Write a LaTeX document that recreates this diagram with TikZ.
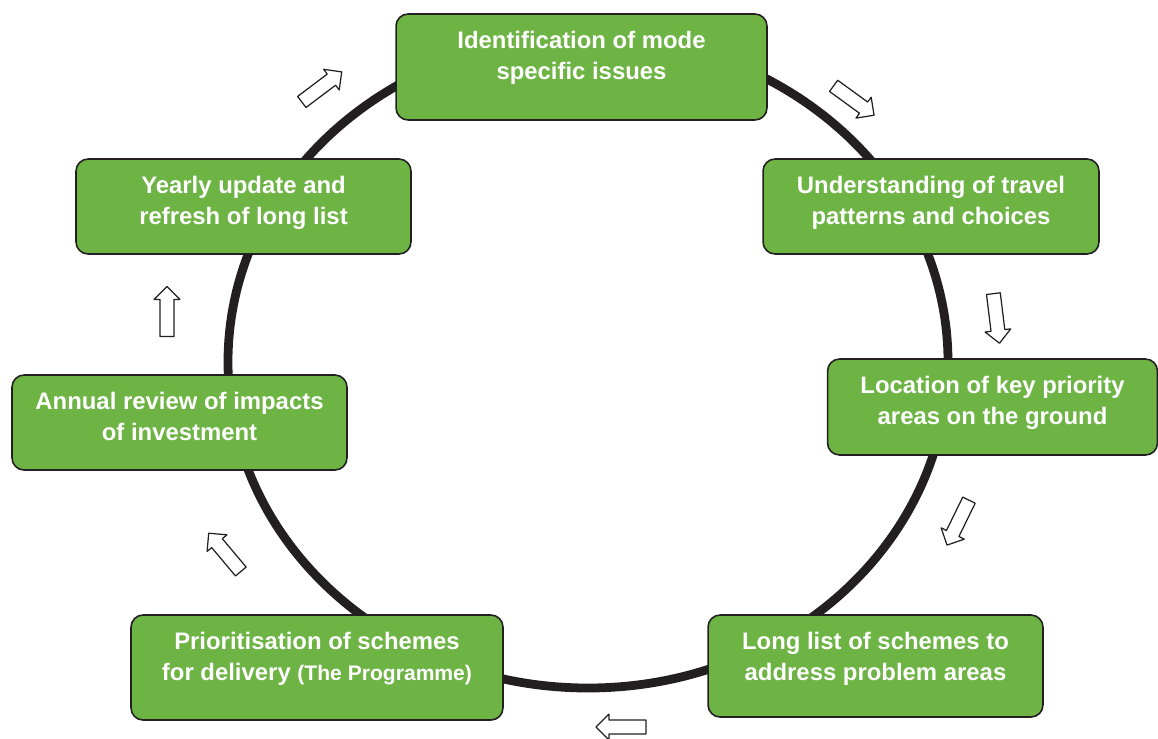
\documentclass[tikz,border=0pt]{standalone}
\usepackage{fontspec}
\setmainfont{Liberation Sans}
\usetikzlibrary{shapes.arrows}
\definecolor{leafgreen}{HTML}{6DB444}
\definecolor{inkblack}{HTML}{231F20}
\tikzset{
  stagebox/.style={draw=inkblack, line width=0.9pt, fill=leafgreen, rounded corners=0.24cm,
    text=white, font=\fontsize{13.6}{17.6}\selectfont\bfseries, align=center, inner sep=0pt, text depth=#1},
  cyclearrow/.style={single arrow, draw=inkblack, fill=white, line width=0.7pt, inner sep=3.6pt,
    single arrow head extend=3.4pt, minimum height=1cm}
}
\begin{document}
\begin{tikzpicture}[x=0.02cm, y=-0.02cm, line join=round]
	\useasboundingbox (0,0) rectangle (1158,738);
	\draw[inkblack, line width=5pt] (588,362) ellipse (360 and 326);
	% the seven stages
	\node[stagebox=0.45cm, minimum width=7.42cm, minimum height=2.12cm] (ident) at (581.5,67) {Identification of mode\\specific issues};
	\node[stagebox=0.23cm, minimum width=6.72cm, minimum height=1.9cm] (travel) at (931,206.5) {Understanding of travel\\patterns and choices};
	\node[stagebox=0.25cm, minimum width=6.6cm, minimum height=1.92cm] (locate) at (992.5,407) {Location of key priority\\areas on the ground};
	\node[stagebox=0.37cm, minimum width=6.7cm, minimum height=2.04cm] (longlist) at (875.5,666) {Long list of schemes to\\address problem areas};
	\node[stagebox=0.43cm, minimum width=7.44cm, minimum height=2.1cm] (priority) at (317,667.5) {Prioritisation of schemes\\for delivery {\fontsize{12}{17.6}\selectfont(The Programme)}};
	\node[stagebox=0.23cm, minimum width=6.7cm, minimum height=1.9cm] (review) at (179.5,422.5) {Annual review of impacts\\of investment};
	\node[stagebox=0.23cm, minimum width=6.7cm, minimum height=1.9cm] (update) at (243.5,206.5) {Yearly update and\\refresh of long list};
	% hollow arrows round the cycle
	\foreach \p/\a [count=\i] in {{(319,89)}/37, {(851,98.5)}/-36, {(996,315)}/-83, {(959.5,519.5)}/-116, {(624.5,727)}/180, {(227,555)}/130, {(167,315)}/90}
	\node[cyclearrow, rotate=\a] (arr\i) at \p {};
\end{tikzpicture}
\end{document}
